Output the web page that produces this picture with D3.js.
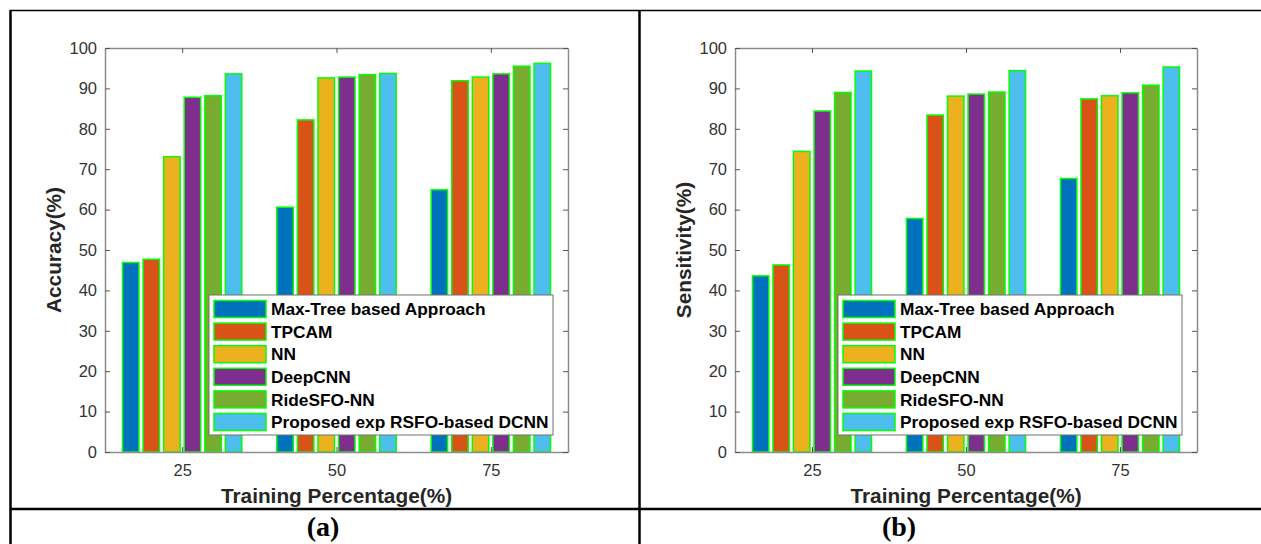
<!DOCTYPE html>
<html>
<head>
<meta charset="utf-8">
<script src="https://cdn.jsdelivr.net/npm/d3@7"></script>
<style>
  body { margin: 0; background: #fff; }
  svg { display: block; font-family: "Liberation Sans", Arial, sans-serif; }
</style>
</head>
<body>
<div id="chart"></div>
<script>
// data
const trainPct = [25, 50, 75];
const methods = ["Max-Tree based Approach", "TPCAM", "NN", "DeepCNN", "RideSFO-NN", "Proposed exp RSFO-based DCNN"];
const colors = ["#0072BD", "#D95319", "#EDB120", "#7E2F8E", "#77AC30", "#4DBEEE"];
const yTicks = [0, 10, 20, 30, 40, 50, 60, 70, 80, 90, 100];

// one row per training percentage, one value per method
const accuracy = [
    [46.9, 47.7, 73.1, 87.8, 88.2, 93.6],
    [60.6, 82.2, 92.6, 92.8, 93.4, 93.7],
    [64.9, 91.9, 92.8, 93.6, 95.5, 96.2]
];
const sensitivity = [
    [43.6, 46.3, 74.4, 84.4, 89.0, 94.3],
    [57.8, 83.4, 88.1, 88.6, 89.1, 94.4],
    [67.7, 87.4, 88.2, 88.9, 90.8, 95.3]
];

const W = 1261, H = 544;
const svg = d3.select("#chart").append("svg")
    .attr("width", W)
    .attr("height", H);

// table frame around the two panels
const frame = svg.append("g").attr("stroke", "#000");
frame.append("line").attr("x1", 10).attr("x2", W).attr("y1", 10.5).attr("y2", 10.5).attr("stroke-width", 1.5);
frame.append("line").attr("x1", 10).attr("x2", W).attr("y1", 509).attr("y2", 509).attr("stroke-width", 2.5);
frame.append("line").attr("x1", 10.5).attr("x2", 10.5).attr("y1", 10).attr("y2", H).attr("stroke-width", 2.5);
frame.append("line").attr("x1", 639.5).attr("x2", 639.5).attr("y1", 10).attr("y2", H).attr("stroke-width", 2.5);

function drawPanel(left, right, values, yLabel, caption, captionX) {
    const top = 48, bottom = 452;
    const g = svg.append("g");

    const x = d3.scaleLinear().domain([12.5, 87.5]).range([left, right]);
    const y = d3.scaleLinear().domain([0, 100]).range([bottom, top]);
    const groupW = x(12.5 + 25 * 0.8) - x(12.5);
    const inner = d3.scaleBand()
        .domain(d3.range(methods.length))
        .range([-groupW / 2, groupW / 2])
        .paddingInner(0.2)
        .paddingOuter(0.1);

    // bars
    trainPct.forEach((p, i) => {
        g.append("g").selectAll("rect")
            .data(values[i])
            .enter().append("rect")
            .attr("x", (d, j) => x(p) + inner(j))
            .attr("y", d => y(d))
            .attr("width", inner.bandwidth())
            .attr("height", d => bottom - y(d))
            .attr("fill", (d, j) => colors[j])
            .attr("stroke", "#00ff00")
            .attr("stroke-width", 1.5);
    });

    // axes box with inward ticks on all four sides
    const tickLen = 5;
    const axCol = "#8c8c8c";
    g.append("g").attr("transform", `translate(0,${bottom})`)
        .call(d3.axisBottom(x).tickValues(trainPct).tickSize(-tickLen).tickPadding(12).tickSizeOuter(0));
    g.append("g").attr("transform", `translate(0,${top})`)
        .call(d3.axisTop(x).tickValues(trainPct).tickSize(-tickLen).tickFormat("").tickSizeOuter(0));
    g.append("g").attr("transform", `translate(${left},0)`)
        .call(d3.axisLeft(y).tickValues(yTicks).tickSize(-tickLen).tickPadding(8).tickSizeOuter(0));
    g.append("g").attr("transform", `translate(${right},0)`)
        .call(d3.axisRight(y).tickValues(yTicks).tickSize(-tickLen).tickFormat("").tickSizeOuter(0));
    g.selectAll(".domain").attr("stroke", axCol).attr("stroke-width", 1.5);
    g.selectAll(".tick line").attr("stroke", "#555");
    g.selectAll(".tick text")
        .attr("fill", "#333")
        .style("font-size", "16.5px")
        .style("font-family", "'Liberation Sans', Arial, sans-serif");

    // axis titles
    g.append("text")
        .attr("x", (left + right) / 2)
        .attr("y", 503)
        .attr("text-anchor", "middle")
        .attr("fill", "#262626")
        .style("font-size", "20.8px")
        .style("font-weight", "bold")
        .text("Training Percentage(%)");
    g.append("text")
        .attr("transform", `translate(${left - 44},${(top + bottom) / 2}) rotate(-90)`)
        .attr("text-anchor", "middle")
        .attr("fill", "#262626")
        .style("font-size", "20.8px")
        .style("font-weight", "bold")
        .text(yLabel);

    // legend
    const legW = 344, legH = 140;
    const lx = right - 15 - legW, ly = 295;
    const leg = g.append("g").attr("transform", `translate(${lx},${ly})`);
    leg.append("rect")
        .attr("width", legW).attr("height", legH)
        .attr("fill", "#fff")
        .attr("stroke", "#707070")
        .attr("stroke-width", 1);
    const rowH = 22.6;
    const items = leg.selectAll("g.item")
        .data(methods)
        .enter().append("g")
        .attr("class", "item")
        .attr("transform", (d, i) => `translate(5,${14 + i * rowH})`);
    items.append("rect")
        .attr("x", 0).attr("y", -8.5)
        .attr("width", 52).attr("height", 17)
        .attr("fill", (d, i) => colors[i])
        .attr("stroke", "#00ff00")
        .attr("stroke-width", 1.5);
    items.append("text")
        .attr("x", 57).attr("y", 0)
        .attr("dy", "0.36em")
        .attr("fill", "#000")
        .style("font-size", "17.3px")
        .style("font-weight", "bold")
        .text(d => d);

    // caption under the panel
    svg.append("text")
        .attr("x", captionX)
        .attr("y", 536)
        .attr("text-anchor", "middle")
        .style("font-family", "'Liberation Serif', 'Times New Roman', serif")
        .style("font-size", "28px")
        .style("font-weight", "bold")
        .text(caption);
}

drawPanel(105, 568, accuracy, "Accuracy(%)", "(a)", 323);
drawPanel(735, 1197, sensitivity, "Sensitivity(%)", "(b)", 899);
</script>
</body>
</html>
